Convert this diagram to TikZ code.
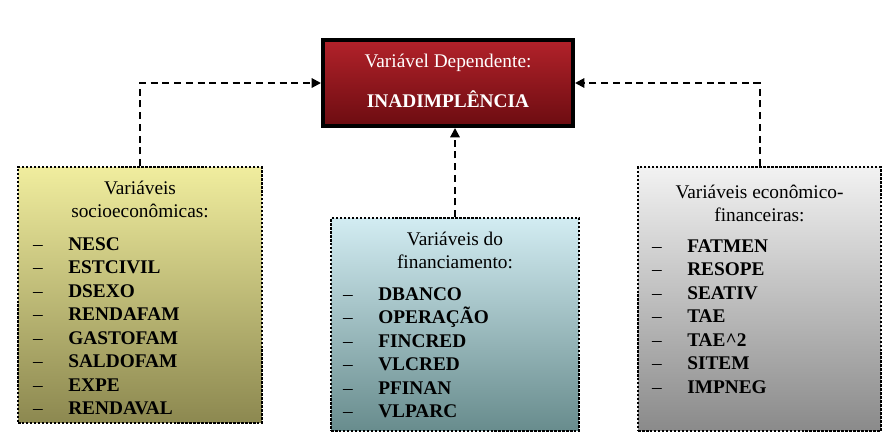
\documentclass[tikz,border=0pt]{standalone}
\usepackage{fontspec}
\setmainfont{Liberation Serif}
\usetikzlibrary{arrows.meta}

\definecolor{redtop}{RGB}{178,34,42}
\definecolor{redbot}{RGB}{108,12,17}
\definecolor{soctop}{RGB}{240,237,158}
\definecolor{socbot}{RGB}{140,136,80}
\definecolor{fintop}{RGB}{210,236,242}
\definecolor{finbot}{RGB}{104,140,141}
\definecolor{ecotop}{RGB}{242,242,242}
\definecolor{ecobot}{RGB}{138,138,138}

\newcommand{\itm}[1]{\makebox[29.9pt][l]{–}\textbf{#1}}

\tikzset{
  group/.style={rectangle, inner sep=0pt, line width=2pt,
    dash pattern=on 2pt off 1.4pt},
  head/.style={font=\fontsize{16.5}{20}\selectfont, align=center, inner sep=0pt, anchor=north},
  items/.style={font=\fontsize{16.5}{20}\selectfont, align=left, inner sep=0pt, anchor=north west},
  link/.style={line width=1.7pt, dash pattern=on 6pt off 4pt, ->},
}

\begin{document}
\begin{tikzpicture}[x=0.8536pt, y=-0.8536pt, >={Triangle[length=8pt,width=8pt]}]
    \useasboundingbox (0,0) rectangle (896,447);

    % Dependent variable
    \node[rectangle, draw=black, line width=3.4pt, top color=redtop, bottom color=redbot,
      minimum width=213.4pt, minimum height=73.4pt] (red) at (448,83) {};
    \node[anchor=base, text=white, font=\fontsize{16.5}{20}\selectfont] (dep) at (448,67.5) {Variável Dependente:};
    \node[anchor=base, text=white, font=\fontsize{16.5}{20}\selectfont\bfseries] (inad) at (448,107.5) {INADIMPLÊNCIA};

    % Groups of variables
    \node[group, draw=black, top color=soctop, bottom color=socbot,
      minimum width=208pt, minimum height=218.2pt] (socio) at (140,295) {};
    \node[group, draw=black, top color=fintop, bottom color=finbot,
      minimum width=211.4pt, minimum height=181.5pt] (financ) at (455,324.5) {};
    \node[group, draw=black, top color=ecotop, bottom color=ecobot,
      minimum width=207.1pt, minimum height=225.1pt] (econ) at (759.5,299) {};

    % Headers
    \node[head] (sochead) at (140,180.5) {Variáveis\\socioeconômicas:};
    \node[head] (finhead) at (455,231.5) {Variáveis do\\financiamento:};
    \node[head] (ecohead) at (759.5,184.5) {Variáveis econômico-\\financeiras:};

    % Lists
    \node[items] (soclist) at (33,237.5) {\itm{NESC}\\\itm{ESTCIVIL}\\\itm{DSEXO}\\\itm{RENDAFAM}\\
      \itm{GASTOFAM}\\\itm{SALDOFAM}\\\itm{EXPE}\\\itm{RENDAVAL}};
    \node[items] (finlist) at (343,287.5) {\itm{DBANCO}\\\itm{OPERAÇÃO}\\\itm{FINCRED}\\\itm{VLCRED}\\
      \itm{PFINAN}\\\itm{VLPARC}};
    \node[items] (ecolist) at (652,239.5) {\itm{FATMEN}\\\itm{RESOPE}\\\itm{SEATIV}\\\itm{TAE}\\
      \itm{TAE\^{}2}\\\itm{SITEM}\\\itm{IMPNEG}};

    % Links
    \draw[link] (socio.north) |- (red.west);
    \draw[link] (financ.north) -- (financ.north |- red.south);
    \draw[link] (econ.north) |- (red.east);
\end{tikzpicture}
\end{document}
